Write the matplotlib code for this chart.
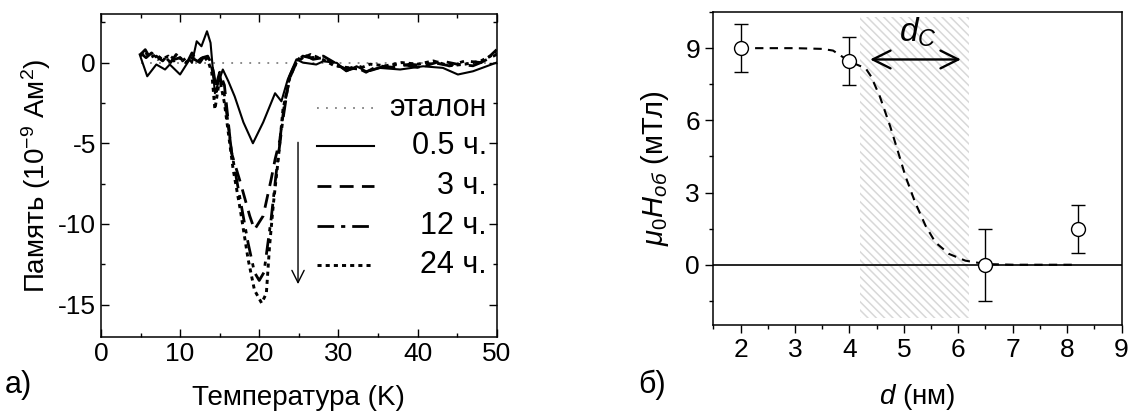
import matplotlib
matplotlib.use("Agg")
import matplotlib.pyplot as plt
from matplotlib.ticker import MultipleLocator
from matplotlib.patches import Rectangle

plt.rcParams['font.family'] = ['Liberation Sans', 'DejaVu Sans']
plt.rcParams['mathtext.fontset'] = 'custom'
plt.rcParams['mathtext.rm'] = 'Liberation Sans'
plt.rcParams['mathtext.it'] = 'Liberation Sans:italic'
plt.rcParams['mathtext.bf'] = 'Liberation Sans:bold'
plt.rcParams['axes.unicode_minus'] = False
plt.rcParams['hatch.color'] = '#d8d8d8'
plt.rcParams['hatch.linewidth'] = 1.1

# ---------------- panel (a) data ----------------
T_05 = [4.9, 5.85, 7.0, 8.1, 8.7, 10.0, 11.2, 11.5, 12.1, 12.7, 13.4, 13.85, 14.4, 15.4, 16.1,
        16.9, 18.0, 19.2, 20.5, 22.0, 22.8, 23.6, 24.7, 25.5, 27.2, 28.1, 29.8, 31.0, 32.3,
        33.5, 35.2, 37.8, 40.7, 43.2, 45.1, 47.0, 50.0]
M_05 = [0.5, -0.85, -0.12, -0.43, -0.12, -0.74, 0.19, -0.02, 1.32, 1.01, 1.94, 1.22, -1.9, -0.43, -1.16,
        -2.1, -3.7, -5.0, -3.7, -1.9, -2.4, -1.05, 0.2, 0.0, -0.12, 0.08, -0.02, -0.54, -0.23,
        -0.54, -0.33, -0.43, -0.23, -0.33, -0.74, -0.54, 0.0]

T_3 = [5.0, 5.6, 6.3, 7.0, 7.8, 8.5, 9.3, 10.0, 10.8, 11.5, 12.2, 12.8, 13.5, 14.0, 14.5, 15.0,
       15.6, 16.5, 17.6, 18.8, 19.4, 20.5, 21.5, 22.0, 22.6, 23.2, 23.9, 24.7, 25.5, 26.5, 28.1,
       29.5, 31.0, 32.3, 33.5, 35.0, 37.0, 39.0, 41.0, 43.0, 45.0, 47.0, 48.5, 50.0]
M_3 = [0.5, 0.8, 0.2, 0.4, 0.1, 0.5, 0.2, 0.3, -0.1, 0.6, 0.0, 0.3, 0.4, -0.3, -1.5, -0.6,
       -1.4, -5.6, -7.4, -9.5, -10.35, -9.5, -7.25, -6.0, -4.8, -2.5, -0.9, 0.0, 0.4, 0.3, 0.4,
       0.0, -0.5, -0.3, -0.6, -0.2, -0.3, -0.1, -0.2, 0.1, -0.1, -0.2, 0.1, 0.8]

T_12 = [5.0, 5.7, 6.4, 7.2, 8.0, 8.8, 9.5, 10.3, 11.0, 11.8, 12.5, 13.2, 13.7, 14.2, 14.6, 15.0,
        15.6, 16.5, 17.6, 18.6, 19.4, 20.0, 20.6, 21.5, 22.2, 23.0, 23.8, 24.7, 25.6, 26.8, 28.0,
        29.5, 31.0, 32.5, 34.0, 36.0, 38.0, 40.0, 42.0, 44.0, 46.0, 48.0, 50.0]
M_12 = [0.6, 0.3, 0.6, 0.2, 0.4, 0.0, 0.5, 0.1, 0.4, 0.2, 0.0, 0.5, 0.2, -0.5, -1.8, -0.8,
        -2.0, -5.5, -8.5, -11.2, -13.0, -13.5, -13.0, -9.7, -6.6, -3.5, -0.9, 0.1, 0.5, 0.2, 0.3,
        -0.1, -0.4, -0.2, -0.5, -0.2, -0.1, -0.3, 0.0, -0.2, 0.1, 0.0, 0.5]

T_24 = [5.0, 5.5, 6.2, 7.0, 7.7, 8.5, 9.2, 10.0, 10.7, 11.5, 12.3, 13.0, 13.6, 14.0, 14.4, 15.0,
        15.6, 16.7, 17.6, 18.6, 19.4, 20.3, 20.9, 21.3, 21.8, 22.4, 23.0, 23.9, 24.7, 25.5, 26.5,
        28.0, 29.5, 31.0, 32.5, 34.0, 36.0, 38.0, 40.0, 42.0, 44.0, 46.0, 48.0, 50.0]
M_24 = [0.4, 0.7, 0.3, 0.5, 0.2, 0.4, 0.1, 0.3, 0.0, 0.3, 0.1, 0.4, 0.0, -0.6, -2.9, -1.0,
        -2.5, -6.6, -9.1, -12.2, -14.1, -14.9, -14.3, -11.4, -8.7, -6.0, -2.9, -0.85, 0.0, 0.3, 0.5,
        0.2, -0.2, -0.3, -0.4, -0.1, -0.2, 0.0, -0.1, 0.1, -0.2, -0.1, 0.1, 0.6]

T_ref = [5.0, 50.0]
M_ref = [0.0, 0.0]

series_labels = ['эталон', '0.5 ч.', '3 ч.', '12 ч.', '24 ч.']

# ---------------- panel (b) data ----------------
d_pts = [2.0, 4.0, 6.5, 8.2]
H_pts = [9.0, 8.45, 0.0, 1.5]
H_err = [1.0, 1.0, 1.5, 1.0]

d_fit = [2.0, 3.0, 3.5, 3.7, 4.0, 4.3, 4.4, 4.56, 4.75, 4.9, 5.03, 5.21, 5.4, 5.58, 5.83, 6.13, 6.5, 7.0, 8.2]
H_fit = [9.0, 9.0, 8.97, 8.9, 8.45, 8.16, 7.82, 6.99, 5.75, 4.65, 3.68, 2.58, 1.62, 0.93, 0.45, 0.17, 0.03, 0.0, 0.0]

dc_range = [4.2, 6.2]
dc_band_y = [-2.2, 10.3]

FS = 19
LFS = 20

fig = plt.figure(figsize=(11.34, 4.16), dpi=100)
ax1 = fig.add_axes([0.089, 0.19, 0.349, 0.776])
ax2 = fig.add_axes([0.629, 0.219, 0.36, 0.752])

# ---- panel a ----
lw = 1.5
st_ref = dict(color='gray', linestyle=(0, (1, 4)), lw=1.3)
st_05 = dict(color='black', linestyle='-', lw=lw)
st_3 = dict(color='black', linestyle=(0, (5, 3)), lw=lw + 0.5)
st_12 = dict(color='black', linestyle=(0, (6, 2.5, 1.5, 2.5)), lw=lw + 0.5)
st_24 = dict(color='black', linestyle=(0, (1.4, 1.4)), lw=lw + 0.6)

ax1.plot(T_ref, M_ref, **st_ref)
ax1.plot(T_05, M_05, **st_05)
ax1.plot(T_3, M_3, **st_3)
ax1.plot(T_12, M_12, **st_12)
ax1.plot(T_24, M_24, **st_24)

ax1.annotate('', xy=(24.9, -13.9), xytext=(24.9, -4.77),
             arrowprops=dict(arrowstyle='->', color='black', lw=1.0, mutation_scale=22))

ax1.set_xlim(0, 50)
ax1.set_ylim(-17, 3)
ax1.xaxis.set_major_locator(MultipleLocator(10))
ax1.xaxis.set_minor_locator(MultipleLocator(5))
ax1.yaxis.set_major_locator(MultipleLocator(5))
ax1.yaxis.set_minor_locator(MultipleLocator(2.5))
ax1.tick_params(which='both', direction='in', top=True, right=True, labelsize=FS)
ax1.tick_params(which='major', length=6, width=1)
ax1.tick_params(which='minor', length=3, width=1)
for s in ax1.spines.values():
    s.set_linewidth(1.1)
ax1.set_xlabel('Температура (K)', fontsize=LFS, labelpad=14)
ax1.set_ylabel('Память (10$^{-9}$ Ам$^{2}$)', fontsize=LFS, labelpad=4)

# manual legend (right-aligned labels)
leg_styles = [st_ref, st_05, st_3, st_12, st_24]
leg_y = [0.709, 0.590, 0.467, 0.343, 0.224]
for lab, st, yy in zip(series_labels, leg_styles, leg_y):
    ax1.plot([0.547, 0.69], [yy, yy], transform=ax1.transAxes, **st)
    ax1.text(0.975, yy, lab, transform=ax1.transAxes, ha='right', va='center', fontsize=22)

# ---- panel b ----
ax2.add_patch(Rectangle((dc_range[0], dc_band_y[0]), dc_range[1] - dc_range[0],
                        dc_band_y[1] - dc_band_y[0], facecolor='white',
                        edgecolor='#d8d8d8', hatch='\\\\\\\\', lw=0, zorder=0))
ax2.axhline(0, color='black', lw=1.2, zorder=1)
ax2.plot(d_fit, H_fit, color='black', lw=1.5, linestyle=(0, (4, 3)), zorder=2)
ax2.errorbar(d_pts, H_pts, yerr=H_err, fmt='o', mfc='white', mec='black', ms=10, mew=1.0,
             ecolor='black', elinewidth=1.0, capsize=5, capthick=1.0, zorder=3)
ax2.annotate('', xy=(4.33, 8.53), xytext=(6.1, 8.53),
             arrowprops=dict(arrowstyle='<->', color='black', lw=1.7, mutation_scale=32))
ax2.text(5.25, 8.95, '$d_C$', fontsize=24, ha='center', va='bottom')

ax2.set_xlim(1.5, 9)
ax2.set_ylim(-2.5, 10.5)
ax2.xaxis.set_major_locator(MultipleLocator(1))
ax2.xaxis.set_minor_locator(MultipleLocator(0.5))
ax2.yaxis.set_major_locator(MultipleLocator(3))
ax2.yaxis.set_minor_locator(MultipleLocator(1.5))
ax2.tick_params(which='both', direction='out', top=False, right=False, labelsize=FS)
ax2.tick_params(which='major', length=6, width=1)
ax2.tick_params(which='minor', length=3, width=1)
for s in ax2.spines.values():
    s.set_linewidth(1.1)
ax2.set_xlabel('$d$ (нм)', fontsize=LFS, labelpad=14)
ax2.set_ylabel('$\\mu_{\\mathit{0}}H_{об}$ (мТл)', fontsize=LFS + 1, labelpad=10)

fig.text(0.004, 0.075, 'а)', fontsize=22, ha='left', va='center')
fig.text(0.563, 0.075, 'б)', fontsize=22, ha='left', va='center')

fig.savefig('out.png', dpi=100)
